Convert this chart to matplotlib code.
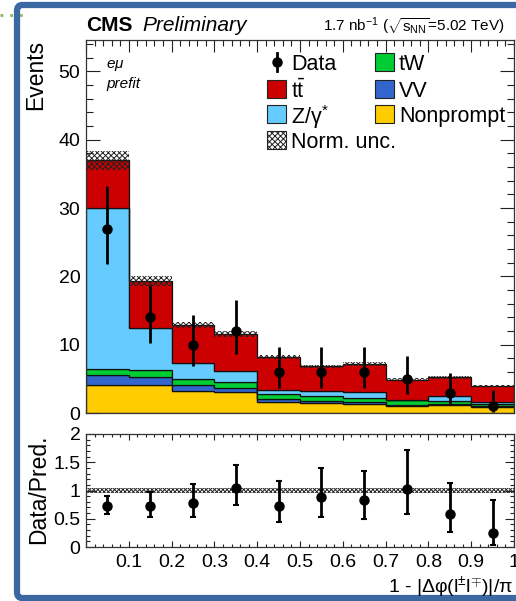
import matplotlib

matplotlib.use("Agg")
import matplotlib.pyplot as plt
import numpy as np
from matplotlib.lines import Line2D
from matplotlib.patches import FancyBboxPatch, Rectangle
from matplotlib.ticker import FixedLocator, FuncFormatter, MultipleLocator, AutoMinorLocator

plt.rcParams["font.family"] = ["Liberation Sans", "DejaVu Sans"]
plt.rcParams["mathtext.fontset"] = "custom"
plt.rcParams["mathtext.rm"] = "Liberation Sans"
plt.rcParams["mathtext.it"] = "Liberation Sans:italic"
plt.rcParams["mathtext.bf"] = "Liberation Sans:bold"
plt.rcParams["hatch.linewidth"] = 0.7

# Данные
bin_edges = [0.0, 0.1, 0.2, 0.3, 0.4, 0.5, 0.6, 0.7, 0.8, 0.9, 1.0]
nonprompt = [4.15, 4.1, 3.27, 3.07, 1.6, 1.46, 1.37, 0.98, 1.12, 0.83]
vv = [1.35, 1.17, 0.88, 0.63, 0.5, 0.34, 0.29, 0.12, 0.15, 0.15]
tw = [0.9, 1.07, 0.83, 0.8, 0.7, 0.64, 0.49, 0.8, 0.53, 0.39]
zgamma = [23.6, 6.06, 2.32, 1.7, 0.6, 0.73, 0.92, 0.05, 0.64, 0.23]
ttbar = [7.0, 6.9, 5.6, 5.3, 4.8, 3.66, 4.1, 2.95, 2.76, 2.4]
norm_unc = 0.038

data = [27, 14, 10, 12, 6, 6, 6, 5, 3, 1]
data_lo = [21.8, 10.3, 6.9, 8.6, 3.6, 3.6, 3.6, 2.85, 1.37, 0.17]
data_hi = [33.2, 18.8, 14.3, 16.6, 9.6, 9.6, 9.6, 8.4, 5.9, 3.3]

x_ticks = [0.0, 0.1, 0.2, 0.3, 0.4, 0.5, 0.6, 0.7, 0.8, 0.9, 1.0]

components = [
    (nonprompt, "#ffcc00", "Nonprompt"),
    (vv, "#3366cc", "VV"),
    (tw, "#00cc33", "tW"),
    (zgamma, "#66ccff", r"Z/γ$^{*}$"),
    (ttbar, "#cc0000", r"t$\mathrm{\bar{t}}$"),
]

W, H = 516, 601


def fx(px):
    return px / W


def fy(py):
    return 1 - py / H


fig = plt.figure(figsize=(W / 100, H / 100), dpi=100)

# Рамка слайда
fig.add_artist(
    FancyBboxPatch(
        (fx(17), fy(598)), fx(560) - fx(17), fy(5) - fy(598),
        boxstyle="round,pad=0,rounding_size=0.01",
        transform=fig.transFigure, facecolor="white", edgecolor="#3b67a3",
        linewidth=4.5, zorder=0,
    )
)
fig.add_artist(
    Line2D([0, fx(25)], [fy(15), fy(15)], transform=fig.transFigure,
           color="#8ab85a", linestyle=(0, (1, 2.5)), linewidth=2.0)
)

ax = fig.add_axes([fx(86), fy(413), fx(514) - fx(86), fy(40) - fy(413)])
rax = fig.add_axes([fx(86), fy(547), fx(514) - fx(86), fy(434) - fy(547)])

edges = np.array(bin_edges)
centers = 0.5 * (edges[:-1] + edges[1:])

# Стек фонов
bottom = np.zeros(len(data))
for values, color, _ in components:
    top = bottom + np.array(values)
    ax.stairs(top, edges, baseline=bottom, fill=True, facecolor=color,
              edgecolor="#111111", linewidth=0.9, zorder=2)
    bottom = top
total = bottom

# Норм. неопределённость
ax.stairs(total * (1 + norm_unc), edges, baseline=total * (1 - norm_unc),
          fill=True, facecolor="none", edgecolor="#222222", hatch="xxxxxx",
          linewidth=0, zorder=3)

data = np.array(data, dtype=float)
yerr = [data - np.array(data_lo), np.array(data_hi) - data]
ax.errorbar(centers, data, yerr=yerr, fmt="o", color="black", ms=6.5,
            elinewidth=2, capsize=0, zorder=5)

ax.set_xlim(0, 1)
ax.set_ylim(0, 54.6)

# Отношение данные / предсказание
rax.stairs(np.full(len(data), 1 + norm_unc), edges,
           baseline=np.full(len(data), 1 - norm_unc), fill=True,
           facecolor="none", edgecolor="#222222", hatch="xxxxxxxx", linewidth=0)
ratio = data / total
rerr = [yerr[0] / total, yerr[1] / total]
rax.errorbar(centers, ratio, yerr=rerr, fmt="o", color="black", ms=6.5,
             elinewidth=2, capsize=2.5, capthick=1.5, zorder=5)
rax.set_xlim(0, 1)
rax.set_ylim(0, 2)

for a in (ax, rax):
    a.xaxis.set_major_locator(FixedLocator(x_ticks))
    a.xaxis.set_minor_locator(AutoMinorLocator(5))
    a.yaxis.set_minor_locator(AutoMinorLocator(5))
    a.tick_params(which="both", direction="in", top=True, right=True,
                  labelsize=14, color="#222222", width=0.8)
    for s in a.spines.values():
        s.set_color("#333333")
        s.set_linewidth(0.9)

ax.yaxis.set_major_locator(MultipleLocator(10))
ax.yaxis.set_minor_locator(AutoMinorLocator(5))
ax.tick_params(axis="x", which="major", length=8.6)
ax.tick_params(axis="x", which="minor", length=4.3)
ax.tick_params(axis="y", which="major", length=10, pad=4)
ax.tick_params(axis="y", which="minor", length=5)
ax.tick_params(axis="x", labelbottom=False)

rax.yaxis.set_major_locator(MultipleLocator(0.5))
rax.tick_params(axis="x", which="major", length=4.3, pad=5)
rax.tick_params(axis="x", which="minor", length=2.4)
rax.tick_params(axis="y", which="major", length=6.5, pad=4)
rax.tick_params(axis="y", which="minor", length=3.2)
rax.xaxis.set_major_formatter(FuncFormatter(lambda v, p: "" if v == 0 else f"{v:g}"))
rax.yaxis.set_major_formatter(FuncFormatter(lambda v, p: f"{v:g}"))

ax.set_ylabel("Events", fontsize=16.5, loc="top", labelpad=8)
rax.set_ylabel("Data/Pred.", fontsize=16.5, loc="top", labelpad=2)
fig.text(fx(513), fy(593), r"1 - |Δφ(l$^{\pm}$l$^{\mp}$)|/π", fontsize=14,
         ha="right", va="baseline")

# Заголовки
fig.text(fx(86), fy(31), "CMS", fontsize=15, fontweight="bold", va="baseline")
fig.text(fx(142), fy(31), "Preliminary", fontsize=15, style="italic", va="baseline")
fig.text(fx(505), fy(31), r"1.7 nb$^{-1}$ ($\sqrt{\mathrm{s_{NN}}}$=5.02 TeV)",
         fontsize=11, ha="right", va="baseline")
fig.text(fx(106), fy(68), r"e$\mu$", fontsize=11, style="italic", va="baseline")
fig.text(fx(106), fy(88), "prefit", fontsize=11, style="italic", va="baseline")

# Легенда (ручная раскладка, как в ROOT)
legend_rows = [
    (fx(267), fy(62), "data", "Data"),
    (fx(267), fy(89), components[4][1], components[4][2]),
    (fx(267), fy(114), components[3][1], components[3][2]),
    (fx(267), fy(140), "hatch", "Norm. unc."),
    (fx(375), fy(62), components[2][1], components[2][2]),
    (fx(375), fy(89), components[1][1], components[1][2]),
    (fx(375), fy(114), components[0][1], components[0][2]),
]
bw, bh = fx(19), 18 / H
for x0, yc, kind, label in legend_rows:
    if kind == "data":
        fig.add_artist(Line2D([x0 + bw / 2] * 2, [yc - bh / 2, yc + bh / 2],
                              transform=fig.transFigure, color="black", lw=2))
        fig.add_artist(Line2D([x0 + bw / 2], [yc], transform=fig.transFigure,
                              marker="o", color="black", ms=6.5))
    elif kind == "hatch":
        fig.add_artist(Rectangle((x0, yc - bh / 2), bw, bh, transform=fig.transFigure,
                                 facecolor="white", edgecolor="#222222",
                                 hatch="xxxxxx", linewidth=0.8))
    else:
        fig.add_artist(Rectangle((x0, yc - bh / 2), bw, bh, transform=fig.transFigure,
                                 facecolor=kind, edgecolor="#222222", linewidth=0.8))
    fig.text(x0 + bw + fx(5), yc, label, fontsize=15.5, va="center_baseline")

fig.savefig("out.png", dpi=100)
